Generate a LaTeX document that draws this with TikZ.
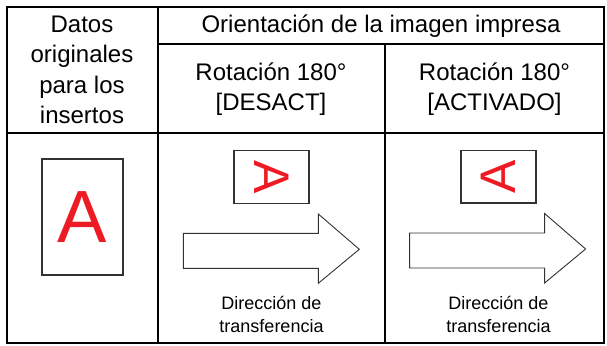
\documentclass[tikz,border=0pt]{standalone}
\usepackage{fontspec}
\setmainfont{Liberation Sans}
\definecolor{redA}{RGB}{237,28,36}
\definecolor{boxgray}{RGB}{50,50,50}
\begin{document}
\begin{tikzpicture}[x=1pt,y=-1pt,
  grid/.style={line width=2pt,black},
  frame/.style={draw=boxgray,line width=1.4pt},
  bigarrow/.style={draw=boxgray,line width=0.9pt,fill=white,line join=miter},
  head/.style={font=\fontsize{24}{30.5}\selectfont,align=center,inner sep=0pt},
  lab/.style={font=\fontsize{18}{23}\selectfont,align=center,inner sep=0pt},
  letter/.style={text=redA,inner sep=0pt}]
\useasboundingbox (0,0) rectangle (607,345);
% table grid
\draw[grid] (6.5,7.5) rectangle (604,342.5);
\draw[grid] (157.5,7.5) -- (157.5,342.5);
\draw[grid] (385,44.5) -- (385,342.5);
\draw[grid] (157.5,44.5) -- (604,44.5);
\draw[grid] (6.5,132.7) -- (604,132.7);
% headers
\node[head] (hdatos) at (82,70) {Datos\\originales\\para los\\insertos};
\node[head] (horient) at (381,26) {Orientación de la imagen impresa};
\node[head] (hoff) at (271,89) {Rotación 180°\\{}[DESACT]};
\node[head] (hon) at (494.5,89) {Rotación 180°\\{}[ACTIVADO]};
% left original
\node[frame,minimum width=81pt,minimum height=116pt,inner sep=0pt] (orig) at (82.3,217) {};
\node[letter,font=\fontsize{74}{74}\selectfont] (origA) at (orig.center) {A};
% middle
\node[frame,minimum width=75pt,minimum height=52.6pt,inner sep=0pt] (offbox) at (271.5,177) {};
\node[letter,font=\fontsize{50}{50}\selectfont,rotate=-90] (offA) at (offbox.center) {A};
\draw[bigarrow] (183.3,233.3) -- (318.3,233.3) -- (318.3,214) -- (359.3,249.3)
  -- (318.3,283.3) -- (318.3,268.3) -- (183.3,268.3) -- cycle;
\node[lab] (offlab) at (271.5,314) {Dirección de\\transferencia};
% right
\node[frame,minimum width=75pt,minimum height=52.6pt,inner sep=0pt] (onbox) at (498.4,176.5) {};
\node[letter,font=\fontsize{50}{50}\selectfont,rotate=90] (onA) at (onbox.center) {A};
\draw[bigarrow] (409.6,233) -- (544.6,233) -- (544.6,213.5) -- (585.6,249)
  -- (544.6,283) -- (544.6,268) -- (409.6,268) -- cycle;
\node[lab] (onlab) at (498.5,314) {Dirección de\\transferencia};
\end{tikzpicture}
\end{document}
